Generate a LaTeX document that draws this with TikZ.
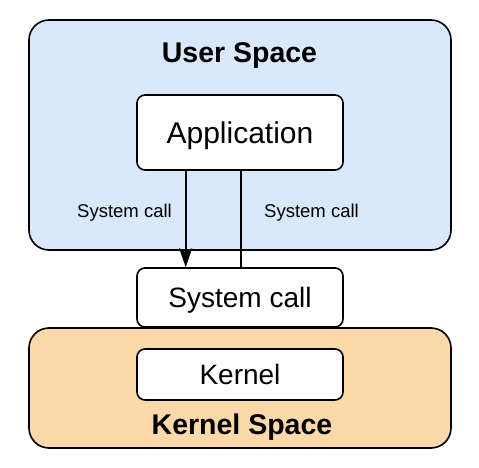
\documentclass[tikz,border=0pt]{standalone}
\usepackage{fontspec}
\setmainfont{Liberation Sans}
\usetikzlibrary{arrows.meta}
\definecolor{userblue}{HTML}{DAE8FC}
\definecolor{kernelorange}{HTML}{FCD9A8}
\tikzset{
  x=1pt,y=1pt,
  region/.style={draw=black,line width=1.6pt,rounded corners=20pt},
  inner box/.style={draw=black,fill=white,line width=1.6pt,rounded corners=8pt,minimum width=206pt,inner sep=0pt,text depth=0pt},
  title text/.style={font=\fontsize{28.5}{32}\selectfont\bfseries,text height=20.4pt,text depth=0pt,inner sep=0pt},
  box text/.style={font=\fontsize{28}{32}\selectfont,text height=20pt},
  big text/.style={font=\fontsize{30}{34}\selectfont,text height=21.5pt},
  small label/.style={font=\fontsize{18.5}{22}\selectfont,inner sep=0pt,text height=13.3pt,text depth=0pt},
  conn/.style={line width=1.6pt},
}
\begin{document}
\begin{tikzpicture}
\useasboundingbox (0,0) rectangle (479,467);
\fill[white] (0,0) rectangle (479,467);
% regions
\draw[region,fill=userblue] (29,217) rectangle (451,447);
\draw[region,fill=kernelorange] (29,19) rectangle (451,139);
\node[title text] (usertitle) at (239.5,415) {User Space};
\node[title text] (kerneltitle) at (242,42.5) {Kernel Space};
% boxes
\node[inner box,minimum height=75pt,big text] (app) at (240,334.5) {Application};
\node[inner box,minimum height=59pt,box text] (sys) at (240,169.5) {System call};
\node[inner box,minimum height=51pt,box text] (kern) at (240,92.5) {Kernel};
% connectors
\draw[conn,-{Stealth[length=19pt,width=13pt,inset=4pt]}] (app.south -| 185.7,0) -- (sys.north -| 185.7,0);
\draw[conn] (app.south -| 240.7,0) -- (sys.north -| 240.7,0);
\node[small label] (lbl1) at (124.5,256.5) {System call};
\node[small label] (lbl2) at (311.5,256.5) {System call};
\end{tikzpicture}
\end{document}
